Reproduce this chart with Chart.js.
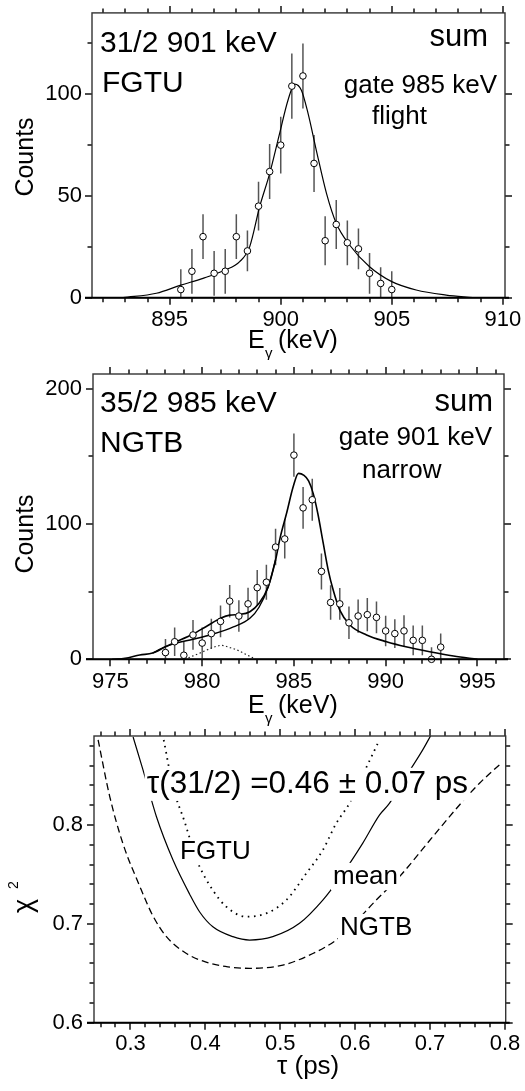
<!DOCTYPE html>
<html>
<head>
<meta charset="utf-8">
<script src="https://cdn.jsdelivr.net/npm/chart.js@4.4.1/dist/chart.umd.min.js"></script>
<style>
  body { margin: 0; background: #fff; width: 525px; height: 1091px; position: relative; overflow: hidden; }
  canvas { position: absolute; left: 0; }
</style>
</head>
<body>
<canvas id="c1" width="525" height="360" style="top:0px"></canvas>
<canvas id="c2" width="525" height="368" style="top:360px"></canvas>
<canvas id="c3" width="525" height="363" style="top:728px"></canvas>
<script>
const FONT = '"Liberation Sans", Arial, Helvetica, sans-serif';
Chart.defaults.font.family = FONT;
Chart.defaults.color = '#000';

// --- top panel: 31/2 901 keV line, FGTU ---
const fgtuEnergy = [895.5, 896, 896.5, 897, 897.5, 898, 898.5, 899, 899.5, 900, 900.5, 901, 901.5, 902, 902.5, 903, 903.5, 904, 904.5, 905];
const fgtuCounts = [4, 13, 30, 12, 13, 30, 23, 45, 62, 75, 104, 109, 66, 28, 36, 27, 24, 12, 7, 4];
const fgtuErr    = [10, 11, 11, 11, 11, 11, 10, 12, 13.5, 14, 16, 16, 14, 12, 12, 11, 10, 10, 8, 9];
const fgtuFitEnergy = [892.9, 894.4, 895.5, 896.5, 897.5, 898.15, 898.6, 899.05, 899.5, 899.95, 900.33, 900.63, 900.93, 901.23, 901.6, 902.06, 902.5, 903.1, 904, 905, 906.1, 907.45, 908.65];
const fgtuFitCounts = [0, 2.2, 6.2, 9.5, 13.6, 17.7, 25, 44.7, 61, 80.8, 97.2, 105, 102, 90.6, 72.6, 51.3, 36.6, 25.9, 15.2, 7.9, 3.8, 1.3, 0];

// --- middle panel: 35/2 985 keV line, NGTB ---
const ngtbEnergy = [978, 978.5, 979, 979.5, 980, 980.5, 981, 981.5, 982, 982.5, 983, 983.5, 984, 984.5, 985, 985.5, 986, 986.5, 987, 987.5, 988, 988.5, 989, 989.5, 990, 990.5, 991, 991.5, 992, 992.5, 993];
const ngtbCounts = [5, 13, 3, 18, 12, 19, 28, 43, 32, 41, 53, 57, 83, 89, 151, 112, 118, 65, 42, 41, 27, 32, 33, 31, 21, 19, 21, 14, 14, 0, 9];
const ngtbErr    = [10, 10.5, 10, 11, 11.5, 11, 11.7, 12, 11.7, 12, 13, 13, 13.5, 14.5, 16, 15.5, 15.5, 13.3, 12.7, 11.7, 12, 12.3, 12.3, 11.7, 11.3, 10.7, 11.6, 11, 11, 9, 10];
const ngtbFitEnergy = [975.1, 975.8, 976.6, 977.3, 978.0, 978.6, 979.5, 980.2, 981.0, 981.5, 982.05, 982.6, 983.1, 983.6, 984.0, 984.25, 984.6, 984.96, 985.25, 985.55, 985.8, 986.05, 986.3, 986.6, 986.87, 987.14, 987.5, 988.05, 988.96, 990.05, 991.1, 992.4, 993.7, 995.0];
const ngtbFitCounts = [0, 0.7, 3.2, 4.6, 9.3, 13, 18.7, 24.1, 30.3, 32.7, 33.2, 35.2, 41.4, 53.7, 73.4, 90, 108, 127.6, 137.5, 136, 132, 122.7, 108, 85.7, 66, 51.2, 36.4, 25.4, 18, 13, 9.3, 5.6, 2.4, 0];
const ngtbMainEnergy = [977.3, 978.0, 978.6, 979.5, 980.6, 981.7, 982.6, 983.1, 983.6, 984.0];
const ngtbMainCounts = [4.6, 9.3, 12, 14.8, 18.7, 24, 30.3, 38.5, 53.7, 73.4];
const ngtbSideEnergy = [979.05, 979.5, 980.05, 980.5, 981.05, 981.5, 981.9, 982.4, 982.9];
const ngtbSideCounts = [0, 2.5, 5.6, 8.3, 10.3, 8.7, 6.9, 3.5, 0.3];

// --- bottom panel: chi2 vs tau ---
const meanTau  = [0.3035, 0.3168, 0.3347, 0.3568, 0.379, 0.3924, 0.410, 0.4368, 0.459, 0.490, 0.5257, 0.5568, 0.579, 0.610, 0.6324, 0.6457, 0.659, 0.690, 0.7013];
const meanChi2 = [0.889, 0.8555, 0.8083, 0.7645, 0.730, 0.712, 0.697, 0.687, 0.6836, 0.687, 0.7005, 0.724, 0.746, 0.7814, 0.81, 0.8218, 0.8386, 0.8757, 0.891];
const fgtuTau  = [0.3444, 0.3568, 0.3724, 0.3857, 0.3924, 0.410, 0.428, 0.4547, 0.4813, 0.508, 0.5347, 0.5568, 0.5747, 0.5924, 0.6035, 0.6324];
const fgtuChi2 = [0.886, 0.8386, 0.803, 0.771, 0.7577, 0.734, 0.7173, 0.7072, 0.7106, 0.724, 0.751, 0.7746, 0.8016, 0.822, 0.840, 0.886];
const ngtbTau  = [0.2568, 0.2724, 0.290, 0.3124, 0.330, 0.348, 0.3747, 0.400, 0.430, 0.459, 0.5035, 0.5435, 0.5747, 0.5924, 0.628, 0.659, 0.7035, 0.739, 0.7657, 0.7947];
const ngtbChi2 = [0.886, 0.8285, 0.781, 0.738, 0.708, 0.687, 0.670, 0.6615, 0.6565, 0.655, 0.6583, 0.670, 0.6836, 0.6954, 0.724, 0.7476, 0.788, 0.820, 0.842, 0.8623];

const xy = (xs, ys) => xs.map((v, i) => ({ x: v, y: ys[i] }));

// tick positions for outward ticks on all four sides
function steps(min, max, minor, major) {
  const out = [];
  for (let n = Math.ceil(min / minor - 1e-6); n * minor <= max + 1e-9; n++) {
    const v = n * minor, r = v / major;
    out.push([v, Math.abs(r - Math.round(r)) < 1e-6]);
  }
  return out;
}

function drawLabel(ctx, L) {
  ctx.save();
  ctx.translate(L.x, L.y);
  if (L.rot) ctx.rotate(L.rot);
  const parts = L.parts || [{ t: L.t, size: L.size }];
  ctx.textAlign = L.align || 'left';
  ctx.textBaseline = L.baseline || 'alphabetic';
  if (L.bg) {
    const s = parts[0].size;
    ctx.font = s + 'px ' + FONT;
    const w = ctx.measureText(parts[0].t).width;
    ctx.fillStyle = '#fff';
    ctx.fillRect(-2, -0.8 * s, w + 4, 1.05 * s);
  }
  ctx.fillStyle = '#000';
  parts.forEach(p => {
    ctx.font = p.size + 'px ' + FONT;
    ctx.fillText(p.t, p.dx || 0, p.dy || 0);
  });
  ctx.restore();
}

// error bars, frame, outward ticks and text for one panel
function panelPlugin(d) {
  return {
    id: 'panel',
    beforeDatasetsDraw(chart) {
      if (!d.errors) return;
      const { ctx, chartArea: a, scales: { x, y } } = chart;
      const e = d.errors;
      ctx.save();
      ctx.beginPath();
      ctx.rect(a.left, a.top, a.right - a.left, a.bottom - a.top);
      ctx.clip();
      ctx.strokeStyle = '#555';
      ctx.lineWidth = 1.5;
      e.x.forEach((xv, i) => {
        const px = x.getPixelForValue(xv);
        ctx.beginPath();
        ctx.moveTo(px, y.getPixelForValue(e.y[i] - e.err[i]));
        ctx.lineTo(px, y.getPixelForValue(e.y[i] + e.err[i]));
        ctx.stroke();
      });
      ctx.restore();
    },
    afterDraw(chart) {
      const { ctx, chartArea: a, scales: { x, y } } = chart;
      d.labels.forEach(L => drawLabel(ctx, L));
      ctx.save();
      ctx.strokeStyle = '#111';
      ctx.lineWidth = 1.5;
      const seg = (x1, y1, x2, y2) => { ctx.beginPath(); ctx.moveTo(x1, y1); ctx.lineTo(x2, y2); ctx.stroke(); };
      steps(d.xMin, d.xMax, d.xMinor, d.xMajor).forEach(([v, major]) => {
        const px = Math.round(x.getPixelForValue(v)), len = major ? 7 : 4.5;
        seg(px, a.bottom, px, a.bottom + len);
        seg(px, a.top, px, a.top - len);
      });
      steps(d.yMin, d.yMax, d.yMinor, d.yMajor).forEach(([v, major]) => {
        const py = Math.round(y.getPixelForValue(v)), len = major ? 7 : 4.5;
        seg(a.left, py, a.left - len, py);
        seg(a.right, py, a.right + len, py);
      });
      ctx.strokeStyle = '#333';
      ctx.lineWidth = 1.4;
      ctx.strokeRect(a.left, a.top, a.right - a.left, a.bottom - a.top);
      ctx.strokeStyle = '#000';
      ctx.lineWidth = 2;
      seg(a.left - 7, a.bottom, a.right + 4, a.bottom);
      ctx.restore();
    }
  };
}

function makePanel(id, p) {
  p.deco.xMin = p.x.min; p.deco.xMax = p.x.max;
  p.deco.yMin = p.y.min; p.deco.yMax = p.y.max;
  return new Chart(document.getElementById(id), {
    type: 'scatter',
    data: { datasets: p.datasets },
    plugins: [panelPlugin(p.deco)],
    options: {
      responsive: false,
      animation: false,
      events: [],
      devicePixelRatio: 1,
      layout: { padding: { top: p.top, right: p.right, left: 0, bottom: 0 } },
      plugins: { legend: { display: false }, tooltip: { enabled: false } },
      scales: {
        x: {
          type: 'linear', min: p.x.min, max: p.x.max,
          grid: { display: false, drawTicks: false }, border: { display: false },
          ticks: { stepSize: p.x.step, includeBounds: false, autoSkip: false, maxRotation: 0,
                   padding: p.x.pad, font: { size: 22 }, color: '#000', callback: p.x.fmt },
          afterFit: s => { s.height = p.x.height; s.paddingLeft = 0; s.paddingRight = 0; }
        },
        y: {
          type: 'linear', min: p.y.min, max: p.y.max,
          grid: { display: false, drawTicks: false }, border: { display: false },
          ticks: { stepSize: p.y.step, includeBounds: false, autoSkip: false,
                   padding: p.y.pad, font: { size: 22 }, color: '#000', callback: p.y.fmt },
          afterFit: s => { s.width = p.y.width; s.paddingTop = 0; s.paddingBottom = 0; }
        }
      }
    }
  });
}

const pointStyle = { pointRadius: 3.3, pointBackgroundColor: '#fff', pointBorderColor: '#000', pointBorderWidth: 1, showLine: false, clip: false };
const lineStyle = { showLine: true, pointRadius: 0, borderColor: '#000', borderWidth: 1.2, cubicInterpolationMode: 'monotone', fill: false };
const intFmt = v => String(v);

function eGammaTitle(x, y) {
  return { x: x, y: y, parts: [
    { t: 'E', size: 25, dx: 0, dy: 0 },
    { t: 'γ', size: 15, dx: 17, dy: 10 },
    { t: '(keV)', size: 25, dx: 30, dy: 0 }
  ] };
}

makePanel('c1', {
  top: 12.9, right: 20,
  x: { min: 891.5, max: 910.1, step: 5, pad: 9, height: 62.3, fmt: intFmt },
  y: { min: 0, max: 140, step: 50, pad: 10, width: 92, fmt: intFmt },
  datasets: [
    Object.assign({ data: xy(fgtuEnergy, fgtuCounts) }, pointStyle),
    Object.assign({ data: xy(fgtuFitEnergy, fgtuFitCounts) }, lineStyle)
  ],
  deco: {
    xMinor: 1, xMajor: 5, yMinor: 25, yMajor: 50,
    errors: { x: fgtuEnergy, y: fgtuCounts, err: fgtuErr },
    labels: [
      { t: '31/2 901 keV', size: 30, x: 100, y: 52 },
      { t: 'FGTU', size: 30, x: 102, y: 92 },
      { t: 'sum', size: 31, x: 488, y: 46, align: 'right' },
      { t: 'gate 985 keV', size: 26, x: 497, y: 93, align: 'right' },
      { t: 'flight', size: 26, x: 372, y: 124 },
      { t: 'Counts', size: 25, x: 26, y: 157, rot: -Math.PI / 2, align: 'center', baseline: 'middle' },
      eGammaTitle(248, 348)
    ]
  }
});

makePanel('c2', {
  top: 14, right: 21,
  x: { min: 974.05, max: 996.45, step: 5, pad: 9, height: 68.7, fmt: intFmt },
  y: { min: 0, max: 211, step: 100, pad: 11, width: 93, fmt: intFmt },
  datasets: [
    Object.assign({ data: xy(ngtbEnergy, ngtbCounts) }, pointStyle),
    Object.assign({ data: xy(ngtbFitEnergy, ngtbFitCounts) }, lineStyle, { borderWidth: 1.6 }),
    Object.assign({ data: xy(ngtbMainEnergy, ngtbMainCounts) }, lineStyle, { borderWidth: 1.4 }),
    Object.assign({ data: xy(ngtbSideEnergy, ngtbSideCounts) }, lineStyle, { borderWidth: 1.2, borderDash: [1.5, 2.5], borderColor: '#222' })
  ],
  deco: {
    xMinor: 1, xMajor: 5, yMinor: 50, yMajor: 100,
    errors: { x: ngtbEnergy, y: ngtbCounts, err: ngtbErr },
    labels: [
      { t: '35/2 985 keV', size: 30, x: 100, y: 51.7 },
      { t: 'NGTB', size: 30, x: 100, y: 91.7 },
      { t: 'sum', size: 31, x: 493, y: 51, align: 'right' },
      { t: 'gate 901 keV', size: 26, x: 492, y: 85, align: 'right' },
      { t: 'narrow', size: 26, x: 362, y: 117.7 },
      { t: 'Counts', size: 25, x: 26, y: 174, rot: -Math.PI / 2, align: 'center', baseline: 'middle' },
      eGammaTitle(248, 353)
    ]
  }
});

makePanel('c3', {
  top: 8, right: 19.3,
  x: { min: 0.2513, max: 0.801, step: 0.1, pad: 7.7, height: 68.3, fmt: v => v.toFixed(1) },
  y: { min: 0.6, max: 0.89, step: 0.1, pad: 11, width: 94, fmt: v => v.toFixed(1) },
  datasets: [
    Object.assign({ data: xy(meanTau, meanChi2) }, lineStyle, { borderWidth: 1.2 }),
    Object.assign({ data: xy(fgtuTau, fgtuChi2) }, lineStyle, { borderWidth: 1.8, borderDash: [1.6, 4.6] }),
    Object.assign({ data: xy(ngtbTau, ngtbChi2) }, lineStyle, { borderWidth: 1.3, borderDash: [7, 4] })
  ],
  deco: {
    xMinor: 0.02, xMajor: 0.1, yMinor: 0.02, yMajor: 0.1,
    labels: [
      { t: 'τ(31/2) =0.46 ± 0.07 ps', size: 31.5, x: 146.7, y: 65, bg: true },
      { t: 'FGTU', size: 26, x: 180, y: 130.7, bg: true },
      { t: 'mean', size: 26, x: 333, y: 155.7, bg: true },
      { t: 'NGTB', size: 26, x: 340, y: 206.7, bg: true },
      { x: 32, y: 185, rot: -Math.PI / 2, parts: [
        { t: 'χ', size: 27, dx: 0, dy: 0 },
        { t: '2', size: 14, dx: 24, dy: -14.5 }
      ] },
      { t: 'τ (ps)', size: 26, x: 277, y: 346 }
    ]
  }
});
</script>
</body>
</html>
